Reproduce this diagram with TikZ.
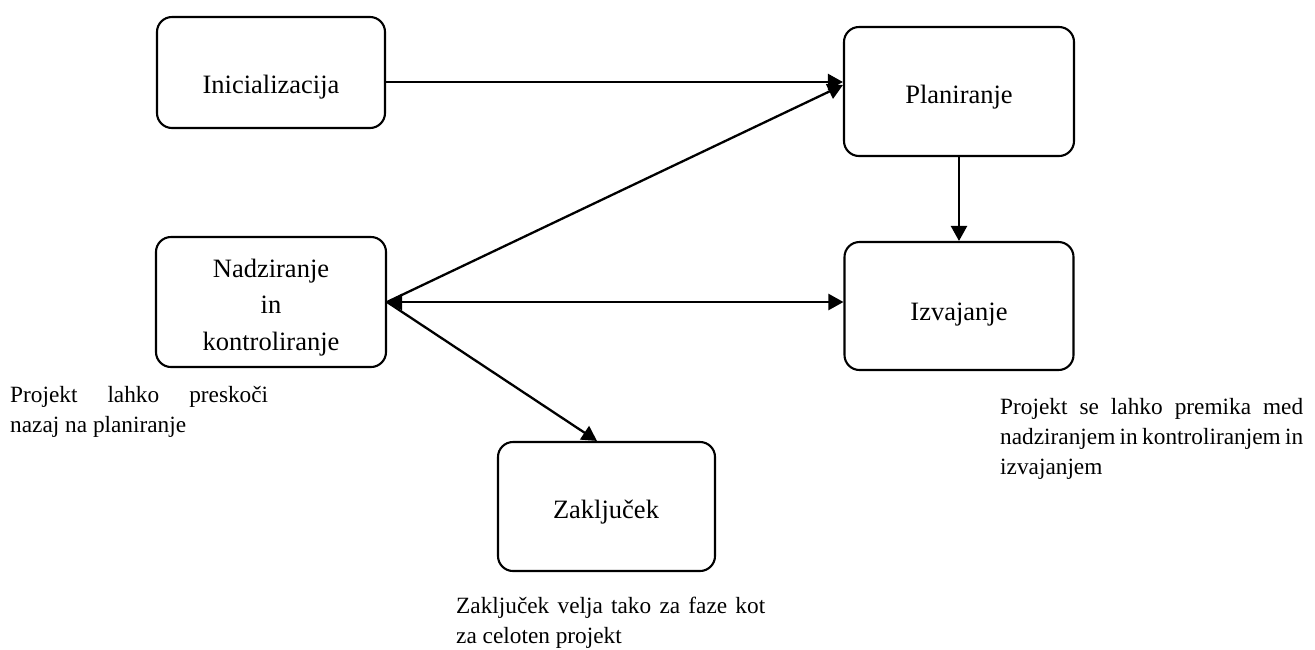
\documentclass[tikz,border=0pt]{standalone}
\usepackage{fontspec}
\setmainfont{Liberation Serif}
\usetikzlibrary{arrows.meta}

\begin{document}
\begin{tikzpicture}[x=1pt,y=-1pt,
  box/.style={draw, line width=2.1pt, rounded corners=15pt, inner sep=0pt},
  lbl/.style={anchor=base, inner sep=0pt, font=\fontsize{26.5}{36.5}\selectfont},
  note/.style={anchor=base west, inner sep=0pt, font=\fontsize{23.3}{30}\selectfont},
  tip/.tip={Triangle[length=15pt,width=16pt]},
  conn/.style={line width=2.3pt, -tip},
  both/.style={line width=2.3pt, tip-tip}]
\useasboundingbox (0,0) rectangle (1315,649);

% phase boxes
\node[box, minimum width=228pt, minimum height=111pt] (ini)  at (271,72.5)  {};
\node[box, minimum width=230pt, minimum height=129pt] (plan) at (959,91.5)  {};
\node[box, minimum width=229pt, minimum height=128pt] (izv)  at (959,306)   {};
\node[box, minimum width=230pt, minimum height=130pt] (nad)  at (271,302)   {};
\node[box, minimum width=217pt, minimum height=129pt] (zak)  at (606.5,506.5) {};

% box texts
\node[lbl] (ini-t)  at (271,93)  {Inicializacija};
\node[lbl] (plan-t) at (959,103) {Planiranje};
\node[lbl] (izv-t)  at (959,320) {Izvajanje};
\node[lbl] (zak-t)  at (606,518) {Zaključek};
\node[lbl] (nad-t)  at (271,277) {\begin{tabular}[t]{@{}c@{}}Nadziranje\\in\\kontroliranje\end{tabular}};

% notes
\node[note] (n-nad) at (10,402) {\begin{tabular}[t]{@{}l@{}}\makebox[258pt][s]{Projekt lahko preskoči}\\nazaj na planiranje\end{tabular}};
\node[note] (n-izv) at (1000,414) {\begin{tabular}[t]{@{}l@{}}\makebox[303pt][s]{Projekt se lahko premika med}\\\makebox[303pt][s]{nadziranjem in kontroliranjem in}\\izvajanjem\end{tabular}};
\node[note] (n-zak) at (456,613) {\begin{tabular}[t]{@{}l@{}}\makebox[309pt][s]{Zaključek velja tako za faze kot}\\za celoten projekt\end{tabular}};

% connectors
\draw[conn] (ini.east |- 0,82) -- (plan.west |- 0,82);
\draw[conn] (nad.east |- 0,302) -- (plan.west |- 0,85);
\draw[both] (nad.east |- 0,302) -- (izv.west |- 0,302);
\draw[conn] (nad.east |- 0,302) -- (zak.north -| 597,0);
\draw[conn] (plan.south) -- (plan.south |- izv.north);
\end{tikzpicture}
\end{document}
